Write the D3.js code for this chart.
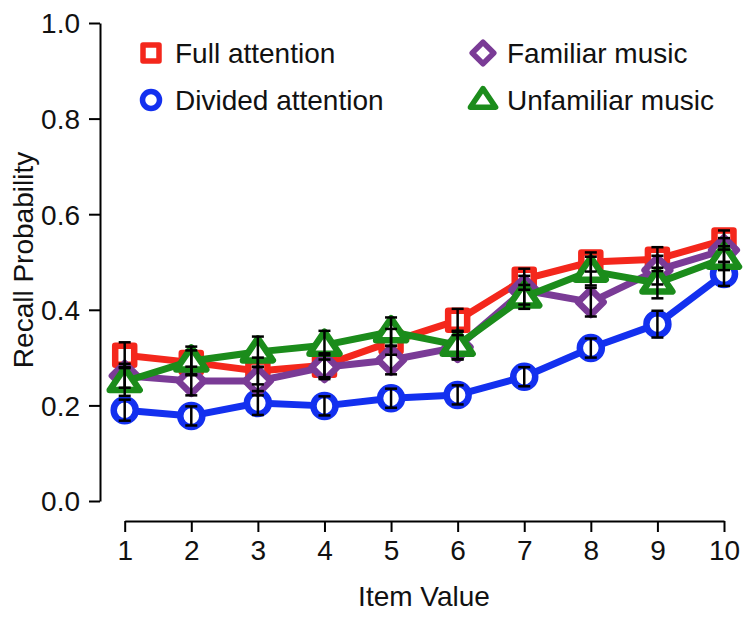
<!DOCTYPE html>
<html><head><meta charset="utf-8">
<script src="https://cdn.jsdelivr.net/npm/d3@7"></script>
<style>body{margin:0;background:#fff}svg{display:block;font-family:"Liberation Sans",Arial,sans-serif}</style>
</head><body><svg id="c" width="750" height="617"></svg>
<script>
const items = [1,2,3,4,5,6,7,8,9,10];
const yTicks = [0,0.2,0.4,0.6,0.8,1.0];
const fullAttention = [0.305,0.290,0.272,0.284,0.333,0.378,0.464,0.500,0.506,0.546];
const fullSE       = [0.027,0.025,0.028,0.025,0.027,0.024,0.022,0.020,0.025,0.020];
const dividedAttention = [0.190,0.178,0.205,0.199,0.215,0.222,0.260,0.320,0.370,0.475];
const dividedSE        = [0.022,0.020,0.025,0.020,0.020,0.020,0.020,0.020,0.028,0.025];
const familiarMusic = [0.262,0.251,0.251,0.280,0.295,0.322,0.441,0.416,0.483,0.525];
const familiarSE    = [0.025,0.030,0.030,0.025,0.030,0.025,0.030,0.030,0.030,0.025];
const unfamiliarMusic = [0.250,0.293,0.312,0.326,0.354,0.326,0.427,0.481,0.456,0.508];
const unfamiliarSE    = [0.030,0.030,0.032,0.030,0.030,0.030,0.025,0.030,0.032,0.025];
const seriesNames = ["Full attention","Divided attention","Familiar music","Unfamiliar music"];

const series = [
  {name:seriesNames[0], v:fullAttention, se:fullSE, color:"#f4271c", shape:"square"},
  {name:seriesNames[1], v:dividedAttention, se:dividedSE, color:"#1330ef", shape:"circle"},
  {name:seriesNames[2], v:familiarMusic, se:familiarSE, color:"#7a3b96", shape:"diamond"},
  {name:seriesNames[3], v:unfamiliarMusic, se:unfamiliarSE, color:"#1b8c1b", shape:"triangle"}
];

const svg = d3.select("#c");
const x = d3.scaleLinear().domain([1,10]).range([124.7,724]);
const y = d3.scaleLinear().domain([0,1]).range([501,23]);

function shapePath(shape, s){
  if(shape==="square") return `M${-s},${-s}H${s}V${s}H${-s}Z`;
  if(shape==="diamond") {const d=s*1.35; return `M0,${-d}L${d},0L0,${d}L${-d},0Z`;}
  if(shape==="triangle") {const h=s*1.5; return `M0,${-h*0.95}L${h*1.05},${h*0.6}L${-h*1.05},${h*0.6}Z`;}
  return null;
}

// axes
const yAxis = d3.axisLeft(y).tickValues(yTicks).tickFormat(d3.format(".1f")).tickSize(11).tickSizeOuter(0).tickPadding(9);
const gy = svg.append("g").attr("transform","translate(100,0)").call(yAxis);
const xAxis = d3.axisBottom(x).tickValues(items).tickFormat(d3.format("d")).tickSize(11).tickSizeOuter(0).tickPadding(8);
const gx = svg.append("g").attr("transform","translate(0,521)").call(xAxis);
[gy,gx].forEach(g=>{
  g.selectAll("path,line").attr("stroke","#000").attr("stroke-width",2);
  g.selectAll("text").attr("font-size",28).attr("fill","#111").attr("font-family","'Liberation Sans',Arial,sans-serif");
});
gy.selectAll("text").attr("dy","0.35em");

svg.append("text").attr("x",424).attr("y",606).attr("text-anchor","middle").attr("font-size",28).attr("fill","#111").text("Item Value");
svg.append("text").attr("transform","translate(33,260) rotate(-90)").attr("text-anchor","middle").attr("font-size",28).attr("fill","#111").text("Recall Probability");

const line = d3.line().x((d,i)=>x(items[i])).y(d=>y(d));
series.forEach(s=>{
  const g = svg.append("g");
  g.append("path").attr("d",line(s.v)).attr("fill","none").attr("stroke",s.color).attr("stroke-width",7).attr("stroke-linejoin","round");
  s.v.forEach((v,i)=>{
    const cx=x(items[i]), cy=y(v);
    if(s.shape==="circle") g.append("circle").attr("cx",cx).attr("cy",cy).attr("r",11).attr("fill","#fff").attr("stroke",s.color).attr("stroke-width",6.5);
    else g.append("path").attr("transform",`translate(${cx},${cy})`).attr("d",shapePath(s.shape,9.5)).attr("fill","#fff").attr("stroke",s.color).attr("stroke-width",6.5).attr("stroke-linejoin","round");
  });
});
// error bars
series.forEach(s=>{
  const g = svg.append("g").attr("stroke","#000").attr("stroke-width",2.5);
  s.v.forEach((v,i)=>{
    const cx=x(items[i]), lo=y(v-s.se[i]), hi=y(v+s.se[i]);
    g.append("line").attr("x1",cx).attr("x2",cx).attr("y1",lo).attr("y2",hi);
    g.append("line").attr("x1",cx-6).attr("x2",cx+6).attr("y1",lo).attr("y2",lo);
    g.append("line").attr("x1",cx-6).attr("x2",cx+6).attr("y1",hi).attr("y2",hi);
  });
});

// legend
const legendPos = [[151,53],[151,100],[483,53],[483,100]];
series.forEach((s,i)=>{
  const [lx,ly]=legendPos[i];
  if(s.shape==="circle") svg.append("circle").attr("cx",lx).attr("cy",ly).attr("r",8.5).attr("fill","#fff").attr("stroke",s.color).attr("stroke-width",5.5);
  else svg.append("path").attr("transform",`translate(${lx},${ly})`).attr("d",shapePath(s.shape,8)).attr("fill","#fff").attr("stroke",s.color).attr("stroke-width",5.5).attr("stroke-linejoin","round");
  svg.append("text").attr("x",lx+24).attr("y",ly).attr("dy","0.35em").attr("font-size",28).attr("fill","#111").text(s.name);
});
</script></body></html>
